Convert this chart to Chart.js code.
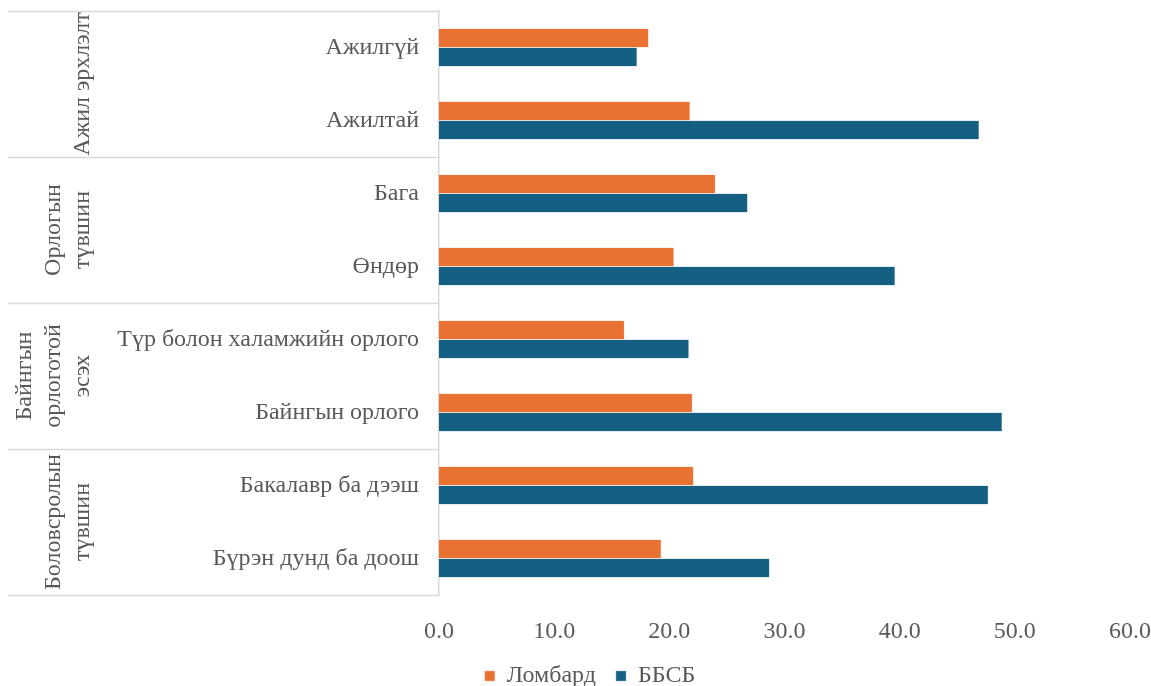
<!DOCTYPE html>
<html lang="mn">
<head>
    <meta charset="UTF-8">
    <title>Ломбард ба ББСБ</title>
    <script src="https://cdn.jsdelivr.net/npm/chart.js"></script>
    <style>
        html, body {
            margin: 0;
            padding: 0;
            background: #fff;
        }

        .chart-box {
            width: 1151px;
            height: 686px;
            position: relative;
        }
    </style>
</head>
<body>
    <div class="chart-box">
        <canvas id="barChart"></canvas>
    </div>

    <script>
        // categories, top to bottom
        const categories = [
            'Ажилгүй', 'Ажилтай',
            'Бага', 'Өндөр',
            'Түр болон халамжийн орлого', 'Байнгын орлого',
            'Бакалавр ба дээш', 'Бүрэн дунд ба доош'
        ];

        // outer level of the category axis
        const groupLabels = [
            ['Ажил эрхлэлт'],
            ['Орлогын', 'түвшин'],
            ['Байнгын', 'орлоготой', 'эсэх'],
            ['Боловсролын', 'түвшин']
        ];
        const groupSizes = [2, 2, 2, 2];

        const seriesNames = ['Ломбард', 'ББСБ'];
        const lombardValues = [18.2, 21.8, 24.0, 20.4, 16.1, 22.0, 22.1, 19.3];
        const bbsbValues = [17.2, 46.9, 26.8, 39.6, 21.7, 48.9, 47.7, 28.7];

        const xTicks = [0, 10, 20, 30, 40, 50, 60];

        const fontFamily = "'Liberation Serif', 'DejaVu Serif', serif";
        const fontSize = 24;
        const textColor = '#595959';
        const lineColor = '#d9d9d9';

        // draws the outer category level and its separator lines
        const groupAxisPlugin = {
            id: 'groupAxis',
            afterLayout(chart) {
                // legend in the original sits a bit right of the page centre
                chart.legend.left += 25;
                chart.legend.right += 25;
            },
            afterDraw(chart) {
                const ctx = chart.ctx;
                const area = chart.chartArea;
                const yScale = chart.scales.y;
                const step = (yScale.getPixelForValue(1) - yScale.getPixelForValue(0));

                ctx.save();
                ctx.strokeStyle = lineColor;
                ctx.lineWidth = 1.5;

                let start = 0;
                const edges = [area.top];
                groupSizes.forEach(size => {
                    const end = start + size - 1;
                    edges.push(yScale.getPixelForValue(end) + step / 2);
                    start += size;
                });

                edges.forEach(y => {
                    ctx.beginPath();
                    ctx.moveTo(8, Math.round(y) + 0.5);
                    ctx.lineTo(area.left, Math.round(y) + 0.5);
                    ctx.stroke();
                });

                ctx.fillStyle = textColor;
                ctx.font = fontSize + 'px ' + fontFamily;
                ctx.textAlign = 'center';
                ctx.textBaseline = 'middle';

                groupLabels.forEach((lines, g) => {
                    const yMid = (edges[g] + edges[g + 1]) / 2;
                    lines.forEach((line, i) => {
                        const x = 83 - (lines.length - 1 - i) * 29;
                        ctx.save();
                        ctx.translate(x, yMid);
                        ctx.rotate(-Math.PI / 2);
                        ctx.fillText(line, 0, 0);
                        ctx.restore();
                    });
                });

                ctx.restore();
            }
        };

        const ctx = document.getElementById('barChart').getContext('2d');
        const barChart = new Chart(ctx, {
            type: 'bar',
            data: {
                labels: categories,
                datasets: [{
                    label: seriesNames[0],
                    data: lombardValues,
                    backgroundColor: '#e97132',
                    borderColor: '#f4b89a',
                    borderWidth: 0.5,
                    categoryPercentage: 0.52,
                    barPercentage: 1.0
                }, {
                    label: seriesNames[1],
                    data: bbsbValues,
                    backgroundColor: '#156082',
                    borderColor: '#8fb3c4',
                    borderWidth: 0.5,
                    categoryPercentage: 0.52,
                    barPercentage: 1.0
                }]
            },
            options: {
                indexAxis: 'y',
                responsive: true,
                maintainAspectRatio: false,
                animation: false,
                layout: {
                    padding: { top: 11, right: 21, left: 0, bottom: -12 }
                },
                plugins: {
                    legend: {
                        position: 'bottom',
                        labels: {
                            boxWidth: 10,
                            boxHeight: 10,
                            padding: 20,
                            color: textColor,
                            font: { family: fontFamily, size: fontSize }
                        }
                    },
                    tooltip: { enabled: false }
                },
                scales: {
                    x: {
                        min: 0,
                        max: 60,
                        afterBuildTicks: axis => {
                            axis.ticks = xTicks.map(v => ({ value: v }));
                        },
                        afterFit: axis => {
                            axis.height = 49;
                            axis.paddingLeft = 0;
                            axis.paddingRight = 0;
                        },
                        grid: { display: false, drawTicks: false },
                        border: { display: false },
                        ticks: {
                            padding: 22,
                            color: textColor,
                            font: { family: fontFamily, size: fontSize },
                            callback: value => value.toFixed(1)
                        }
                    },
                    y: {
                        afterFit: axis => {
                            axis.width = 439;
                            axis.paddingTop = 0;
                            axis.paddingBottom = 0;
                        },
                        grid: { display: false, drawTicks: false },
                        border: { display: true, color: lineColor, width: 1.5 },
                        ticks: {
                            padding: 20,
                            color: textColor,
                            font: { family: fontFamily, size: fontSize }
                        }
                    }
                }
            },
            plugins: [groupAxisPlugin]
        });
    </script>
</body>
</html>
